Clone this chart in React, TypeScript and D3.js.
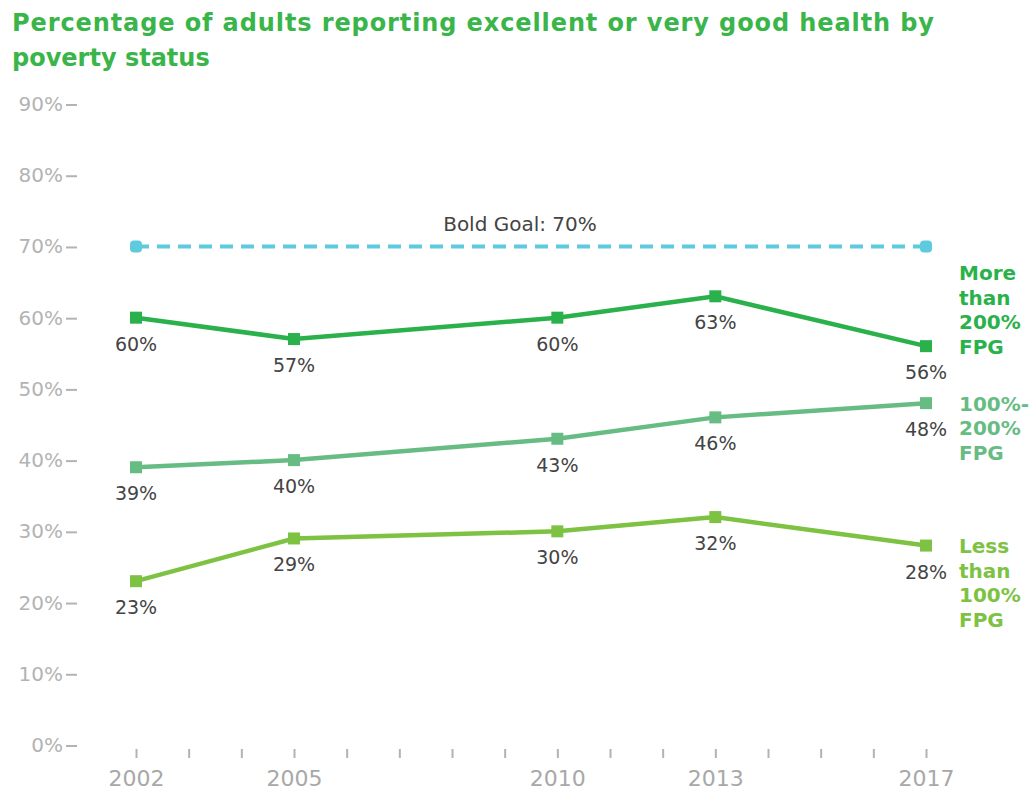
import { useRef, useEffect } from "react";
import * as d3 from "d3";

const WIDTH = 1036;
const HEIGHT = 790;

const years = [2002, 2005, 2010, 2013, 2017];
const moreThan200 = [60, 57, 60, 63, 56];
const between100and200 = [39, 40, 43, 46, 48];
const lessThan100 = [23, 29, 30, 32, 28];
const goalYears = [2002, 2017];
const goalValues = [70, 70];
const yTicks = [0, 10, 20, 30, 40, 50, 60, 70, 80, 90];
const xTickLabels = [2002, 2005, 2010, 2013, 2017];

const seriesNames = [
  ["More", "than", "200%", "FPG"],
  ["100%-", "200%", "FPG"],
  ["Less", "than", "100%", "FPG"],
];

const COLORS = ["#2bb14b", "#67bc84", "#7dc242"];
const GOAL_COLOR = "#5dcbdd";
const FONT = "'DejaVu Sans', sans-serif";

export default function App() {
  const svgRef = useRef<SVGSVGElement>(null);

  useEffect(() => {
    const svg = d3.select(svgRef.current);
    svg.selectAll("*").remove();

    const x = d3.scaleLinear().domain([2002, 2017]).range([136, 926]);
    const y = d3.scaleLinear().domain([0, 90]).range([745, 104]);

    // Title
    const title = svg
      .append("text")
      .attr("font-family", FONT)
      .attr("font-weight", "bold")
      .attr("font-size", 24)
      .attr("fill", "#3ab54a");
    title.append("tspan").attr("x", 12).attr("y", 31)
      .attr("textLength", 922)
      .attr("lengthAdjust", "spacing")
      .text("Percentage of adults reporting excellent or very good health by");
    title.append("tspan").attr("x", 12).attr("y", 66).text("poverty status");

    // Y axis labels with dash ticks
    const yAxis = svg.append("g");
    yAxis.selectAll("text")
      .data(yTicks)
      .join("text")
      .attr("x", 63)
      .attr("y", (d) => y(d) + 7)
      .attr("text-anchor", "end")
      .attr("font-family", FONT)
      .attr("font-size", 20)
      .attr("fill", "#b3b3b3")
      .text((d) => `${d}%`);
    yAxis.selectAll("line")
      .data(yTicks)
      .join("line")
      .attr("x1", 66)
      .attr("x2", 77)
      .attr("y1", (d) => y(d) + 1)
      .attr("y2", (d) => y(d) + 1)
      .attr("stroke", "#b3b3b3")
      .attr("stroke-width", 2);

    // X axis: yearly minor ticks, labelled survey years
    const xAxis = d3.axisBottom(x)
      .tickValues(d3.range(2002, 2018))
      .tickSize(9)
      .tickPadding(12)
      .tickFormat((d) => (xTickLabels.includes(+d) ? String(d) : ""));
    svg.append("g")
      .attr("transform", "translate(0,749)")
      .call(xAxis)
      .call((a) => a.select(".domain").remove())
      .call((a) => a.selectAll("line").attr("stroke", "#b3b3b3").attr("stroke-width", 2))
      .call((a) =>
        a.selectAll("text")
          .attr("fill", "#a8a8a8")
          .attr("font-size", 22)
          .attr("font-family", FONT)
      );

    // Bold goal line
    const goal = goalYears.map((yr, i) => ({ year: yr, value: goalValues[i] }));
    svg.append("path")
      .datum(goal)
      .attr("d", d3.line<{ year: number; value: number }>()
        .x((d) => x(d.year))
        .y((d) => y(d.value)))
      .attr("fill", "none")
      .attr("stroke", GOAL_COLOR)
      .attr("stroke-width", 4)
      .attr("stroke-dasharray", "13,8");
    svg.append("g")
      .selectAll("rect")
      .data(goal)
      .join("rect")
      .attr("x", (d) => x(d.year) - 6)
      .attr("y", (d) => y(d.value) - 6)
      .attr("width", 12)
      .attr("height", 12)
      .attr("rx", 4)
      .attr("fill", GOAL_COLOR);
    svg.append("text")
      .attr("x", 520)
      .attr("y", 231)
      .attr("text-anchor", "middle")
      .attr("font-family", FONT)
      .attr("font-size", 20)
      .attr("fill", "#444")
      .text("Bold Goal: 70%");

    // Series
    const allSeries = [moreThan200, between100and200, lessThan100];
    const line = d3.line<{ year: number; value: number }>()
      .x((d) => x(d.year))
      .y((d) => y(d.value));

    allSeries.forEach((values, si) => {
      const pts = years.map((yr, i) => ({ year: yr, value: values[i] }));
      const g = svg.append("g");
      g.append("path")
        .datum(pts)
        .attr("d", line)
        .attr("fill", "none")
        .attr("stroke", COLORS[si])
        .attr("stroke-width", 4.5);
      g.selectAll("rect")
        .data(pts)
        .join("rect")
        .attr("x", (d) => x(d.year) - 6)
        .attr("y", (d) => y(d.value) - 6)
        .attr("width", 12)
        .attr("height", 12)
        .attr("fill", COLORS[si]);
      g.selectAll("text.val")
        .data(pts)
        .join("text")
        .attr("class", "val")
        .attr("x", (d) => x(d.year))
        .attr("y", (d) => y(d.value) + 33)
        .attr("text-anchor", "middle")
        .attr("font-family", FONT)
        .attr("font-size", 19)
        .attr("fill", "#444")
        .text((d) => `${d.value}%`);

      // Series name at right: top one ends at its last point, others start there
      const last = pts[pts.length - 1];
      const names = seriesNames[si];
      const lineH = 24.5;
      const firstCenter = si === 0
        ? y(last.value) - (names.length - 1) * lineH
        : y(last.value);
      const label = svg.append("text")
        .attr("font-family", FONT)
        .attr("font-weight", "bold")
        .attr("font-size", 20)
        .attr("fill", COLORS[si]);
      label.selectAll("tspan")
        .data(names)
        .join("tspan")
        .attr("x", 959)
        .attr("y", (_, i) => firstCenter + i * lineH + 7.5)
        .text((d) => d);
    });
  }, []);

  return (
    <div style={{ position: "absolute", left: 0, top: 0 }}>
      <svg ref={svgRef} width={WIDTH} height={HEIGHT} viewBox={`0 0 ${WIDTH} ${HEIGHT}`} style={{ display: "block", background: "#fff" }} />
    </div>
  );
}
